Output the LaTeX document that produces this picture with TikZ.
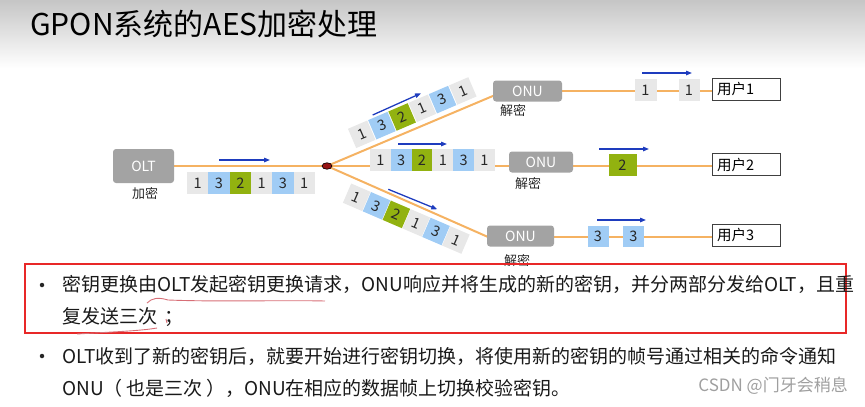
\documentclass[tikz,border=0pt]{standalone}
\usepackage{fontspec}
\setmainfont{Noto Sans CJK SC}
\usetikzlibrary{arrows.meta,calc,shapes.geometric,backgrounds}
\definecolor{lineor}{RGB}{245,178,98}
\definecolor{boxgray}{RGB}{163,163,163}
\definecolor{cellgray}{RGB}{232,232,232}
\definecolor{cellblue}{RGB}{160,204,245}
\definecolor{cellgreen}{RGB}{146,178,16}
\definecolor{arrblue}{RGB}{30,60,190}
\definecolor{redbox}{RGB}{232,40,40}
\definecolor{handred}{RGB}{215,110,118}
\definecolor{splitred}{RGB}{150,20,20}
\definecolor{txt}{RGB}{40,40,40}
\begin{document}
\begin{tikzpicture}[x=1pt,y=-1pt,
  fiber/.style={draw=lineor,line width=2pt},
  devbox/.style={fill=boxgray,rounded corners=3pt,text=white,font=\fontsize{14}{14}\selectfont,inner sep=0pt,minimum height=21pt},
  cell/.style={fill=#1,minimum width=21pt,minimum height=21pt,inner sep=0pt,font=\fontsize{14.5}{14.5}\selectfont,text=txt},
  flow/.style={draw=arrblue,line width=1.3pt,-{Triangle[length=6pt,width=4.5pt]}},
  userbox/.style={draw=black!75,line width=1pt,fill=white,minimum height=22pt,inner ysep=0pt,inner xsep=5pt,text width=58pt,align=left,font=\fontsize{14.5}{14.5}\selectfont},
  lbl/.style={font=\fontsize{13}{13}\selectfont,text=txt},
  body/.style={anchor=west,inner sep=0pt,font=\fontsize{19}{19}\selectfont,text=black!90},
  bullet/.style={circle,fill=black!85,inner sep=0pt,minimum size=4.5pt},
  splitter/.style={inner sep=0pt,fill=splitred,draw=black,line width=0.6pt,ellipse,minimum width=10pt,minimum height=6.5pt},
  hand/.style={draw=handred,line width=0.9pt}
]
\useasboundingbox (0,0) rectangle (865,407);
% title
\node[anchor=west,inner sep=0pt,font=\fontsize{30}{30}\selectfont] (title) at (30,24) {GPON系统的AES加密处理};
% devices
\node[devbox,minimum width=61pt,minimum height=34pt] (olt) at (143.5,166) {OLT};
\node[lbl] (oltl) at (145,193) {加密};
\coordinate (split) at (327,166);
\node[devbox,minimum width=69pt] (onu1) at (527.5,91) {ONU};
\node[lbl] (onu1l) at (513,111) {解密};
\node[devbox,minimum width=64pt] (onu2) at (541,162) {ONU};
\node[lbl] (onu2l) at (528,184) {解密};
\node[devbox,minimum width=67pt] (onu3) at (520.5,236) {ONU};
\node[lbl] (onu3l) at (517,261) {解密};
\node[userbox] (user1) at (746,89) {用户1};
\node[userbox] (user2) at (746,164.5) {用户2};
\node[userbox] (user3) at (746,235) {用户3};
\coordinate (e1) at (494,95.5);
\coordinate (e3) at (488,237);
% background and fibres
\begin{scope}[on background layer]
\shade[top color=gray!45,bottom color=white] (0,0) rectangle (865,68);
\draw[fiber] (olt.east |- split) -- (split);
\draw[fiber] (split) -- (e1);
\draw[fiber] (split) -- (split -| onu2.west);
\draw[fiber] (split) -- (e3);
\draw[fiber] (onu1.east) -- (onu1.east -| user1.west);
\draw[fiber] (onu2.east |- split) -- (user2.west |- split);
\draw[fiber] (onu3.east |- e3) -- (user3.west |- e3);
\end{scope}
\node[splitter] (splnode) at (split) {};
% main frame
\foreach \n/\c [count=\i from 0] in {1/cellgray,3/cellblue,2/cellgreen,1/cellgray,3/cellblue,1/cellgray}
  \node[cell=\c,minimum width=21.4pt,minimum height=22pt] (m\i) at (197.7+\i*21.3,183) {\n};
\draw[flow] (219,160) -- (270,160);
% upper branch frame
\begin{scope}[shift={(361.7,134.3)},rotate=23.2,transform shape]
\foreach \n/\c [count=\i from 0] in {1/cellgray,3/cellblue,2/cellgreen,1/cellgray,3/cellblue,1/cellgray}
  \node[cell=\c] (ua\i) at (\i*22,0) {\n};
\end{scope}
\draw[flow] (372.7,115) -- (421,93.3);
% middle branch frame
\foreach \n/\c [count=\i from 0] in {1/cellgray,3/cellblue,2/cellgreen,1/cellgray,3/cellblue,1/cellgray}
  \node[cell=\c,minimum width=20.9pt,minimum height=22pt] (uc\i) at (380.4+\i*20.8,160) {\n};
\draw[flow] (398,144) -- (447,144);
% lower branch frame
\begin{scope}[shift={(356.7,197.3)},rotate=-23.3,transform shape]
\foreach \n/\c [count=\i from 0] in {1/cellgray,3/cellblue,2/cellgreen,1/cellgray,3/cellblue,1/cellgray}
  \node[cell=\c] (ub\i) at (\i*21.6,0) {\n};
\end{scope}
\draw[flow] (388.3,189.3) -- (437.3,209.3);
% output side
\node[cell=cellgray,minimum width=22pt,minimum height=22pt] (r1a) at (645.5,90) {1};
\node[cell=cellgray,minimum width=21pt,minimum height=22pt] (r1b) at (689,90) {1};
\draw[flow] (642,73) -- (692,73);
\node[cell=cellgreen,minimum width=28pt,minimum height=22pt] (r2) at (622.5,165) {2};
\draw[flow] (599,149) -- (649,149);
\node[cell=cellblue,minimum width=21pt,minimum height=21pt] (r3a) at (598,236.5) {3};
\node[cell=cellblue,minimum width=21pt,minimum height=21pt] (r3b) at (633.5,236.5) {3};
\draw[flow] (597,220) -- (646,220);
% text block
\draw[redbox,line width=1.8pt] (25,264) rectangle (846,333);
\node[bullet] (b1) at (42,285) {};
\node[body] (l1) at (62,284) {密钥更换由OLT发起密钥更换请求，ONU响应并将生成的新的密钥，并分两部分发给OLT，且重};
\node[body] (l2) at (62,317) {复发送三次\hspace{0.4em}；};
\draw[hand] (147,303) .. controls (152,298) and (158,297) .. (168,300) .. controls (220,302) and (280,300) .. (325,301);
\draw[hand] (77,334) .. controls (110,332) and (140,331) .. (157,328);
\draw[hand] (166,319) -- (167,323);
\node[bullet] (b2) at (42,356) {};
\node[body] (l3) at (62,356) {OLT收到了新的密钥后，就要开始进行密钥切换，将使用新的密钥的帧号通过相关的命令通知};
\node[body] (l4) at (62,388) {ONU（\hspace{0.2em}也是三次\hspace{0.2em}），ONU在相应的数据帧上切换校验密钥。};
\node[anchor=east,inner sep=0pt,text=gray!75,font=\fontsize{17}{17}\selectfont] (wm) at (848,386) {CSDN @门牙会稍息};
\end{tikzpicture}
\end{document}
